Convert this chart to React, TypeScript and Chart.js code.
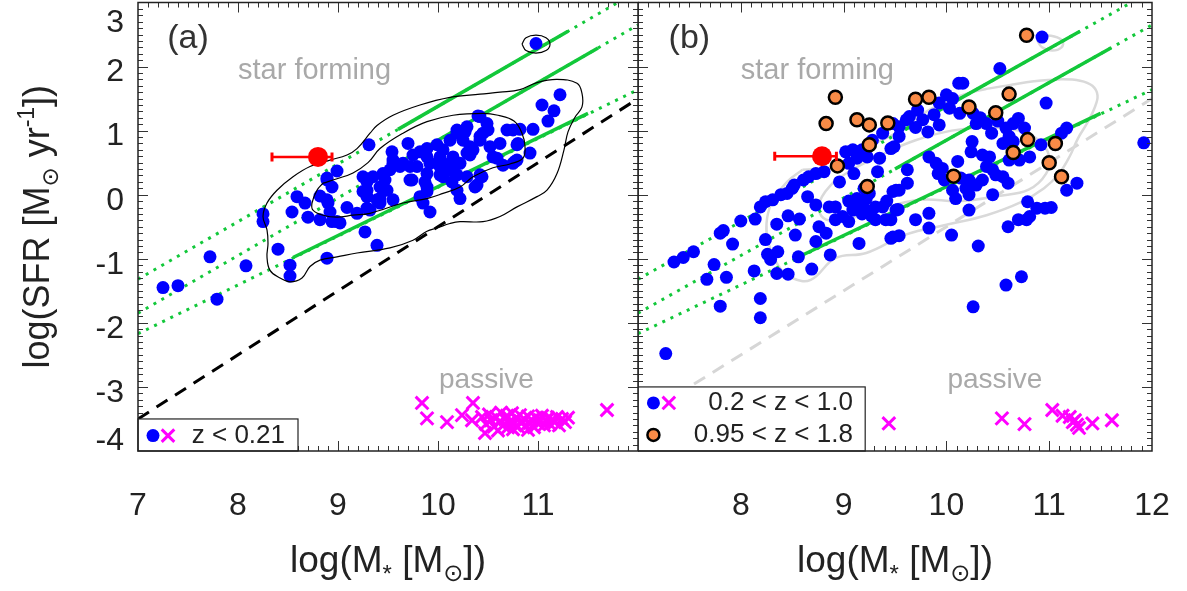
import React, { useEffect, useRef } from 'react';
import { Chart, registerables } from 'chart.js';

Chart.register(...registerables);

const FONT = '"Liberation Sans", Arial, Helvetica, "DejaVu Sans", sans-serif';

type P = [number, number];

// ---------- panel (a): z < 0.21 ----------
const aBlue: P[] = [
  [7.25, -1.45], [7.40, -1.42], [7.72, -0.97], [7.79, -1.63], [8.08, -1.11], [8.25, -0.30], [8.25, -0.42],
  [8.40, -0.85], [8.52, -1.10], [8.52, -1.27], [8.54, -0.27], [8.59, -0.03], [8.67, -0.13], [8.70, -0.35],
  [8.82, -0.02], [8.82, -0.39], [8.89, 0.26], [8.94, 0.12], [8.99, 0.37], [8.90, -0.13], [8.92, -0.27],
  [8.94, -0.42], [9.02, -0.44], [9.09, -0.20], [8.89, -0.99], [9.27, -0.58], [9.31, 0.78], [9.39, -0.79],
  [9.29, 0.07], [9.29, -0.21], [9.25, 0.05], [9.29, 0.20], [9.42, -0.06], [9.55, -0.08], [9.45, 0.33],
  [9.55, 0.49], [9.54, 0.67], [9.65, 0.49], [9.70, 0.80], [9.89, 0.33], [10.02, 0.31], [10.05, 0.70],
  [10.15, 0.59], [10.19, 0.96], [10.29, 1.06], [10.42, 1.22], [10.49, 1.11], [10.45, 0.96], [10.32, 0.75],
  [10.52, 0.75], [10.69, 1.01], [10.82, 1.02], [10.95, 1.02], [9.19, -0.29], [8.89, -0.08], [8.99, -0.42],
  [8.89, 0.23], [10.98, 2.36], [11.22, 1.56], [11.04, 1.40], [11.16, 1.31], [11.10, 1.15], [10.40, 1.23],
  [10.19, 1.01], [10.27, 0.98], [10.50, 1.01], [10.42, 0.91], [10.25, 0.85], [10.12, 0.85], [9.99, 0.78],
  [9.89, 0.72], [10.79, 0.78], [10.79, 0.54], [10.92, 0.65], [10.35, 0.70], [10.59, 0.57], [10.65, 0.46],
  [10.75, 0.49], [10.32, 0.62], [9.82, 0.67], [9.75, 0.62], [9.55, 0.54], [9.62, 0.44], [9.79, 0.44],
  [9.92, 0.49], [10.02, 0.44], [10.12, 0.39], [10.19, 0.31], [10.22, 0.49], [10.05, 0.28], [9.87, 0.20],
  [9.72, 0.23], [9.52, 0.39], [9.47, 0.23], [9.35, 0.28], [9.42, 0.12], [9.49, 0.07], [9.39, -0.08],
  [9.29, -0.03], [9.32, -0.24], [9.82, -0.03], [9.89, 0.12], [9.92, -0.27], [9.85, -0.13], [10.19, 0.07],
  [10.22, -0.06], [10.37, 0.12], [10.44, 0.28], [10.29, 0.28], [10.14, 0.20], [10.80, 0.80], [10.77, 0.52],
  [10.55, 0.59], [10.42, 0.31], [10.39, 0.15], [9.89, 0.05], [9.74, 0.23],
  [10.75, 1.01], [10.42, 0.85], [10.62, 0.80], [10.29, 0.65], [10.15, 0.44], [10.02, 0.54], [9.89, 0.59],
  [9.25, 0.28], [9.42, -0.13], [9.72, 0.44], [10.12, 0.49], [10.02, 0.59],
];

const aPassive: P[] = [
  [9.84, -3.25], [9.89, -3.49], [10.09, -3.55], [10.24, -3.44], [10.35, -3.25], [10.34, -3.52], [10.47, -3.72],
  [11.69, -3.36], [10.44, -3.47], [10.48, -3.58], [10.51, -3.43], [10.53, -3.52], [10.56, -3.62], [10.58, -3.47],
  [10.61, -3.55], [10.63, -3.40], [10.65, -3.60], [10.67, -3.50], [10.69, -3.45], [10.70, -3.63], [10.72, -3.54],
  [10.74, -3.41], [10.76, -3.58], [10.78, -3.49], [10.80, -3.62], [10.82, -3.44], [10.84, -3.55], [10.86, -3.50],
  [10.88, -3.60], [10.90, -3.46], [10.92, -3.56], [10.94, -3.52], [10.96, -3.63], [10.98, -3.48], [11.00, -3.57],
  [11.02, -3.52], [11.04, -3.45], [11.06, -3.60], [11.08, -3.53], [11.10, -3.48], [11.12, -3.58], [11.14, -3.51],
  [11.17, -3.55], [11.19, -3.47], [11.21, -3.60], [11.24, -3.50], [11.27, -3.55], [11.30, -3.48], [10.60, -3.68],
  [10.75, -3.66], [10.90, -3.67],
];

const aRedPoint: P[] = [[8.80, 0.59]];
const aRedErr: P[] = [[8.34, 0.59], [8.94, 0.59]];

const aContourOuter: P[] = [
  [9.32, 0.96], [9.19, 0.72], [9.09, 0.62], [8.92, 0.54], [8.72, 0.44], [8.55, 0.28], [8.39, 0.07], [8.29, -0.13],
  [8.25, -0.34], [8.29, -0.55], [8.30, -0.76], [8.29, -0.97], [8.32, -1.18], [8.42, -1.30], [8.52, -1.36],
  [8.64, -1.30], [8.72, -1.12], [8.82, -1.02], [8.99, -0.97], [9.19, -0.91], [9.52, -0.83], [9.75, -0.71],
  [9.89, -0.57], [9.99, -0.52], [10.12, -0.45], [10.22, -0.42], [10.45, -0.42], [10.62, -0.34], [10.79, -0.19],
  [10.99, -0.03], [11.09, 0.07], [11.19, 0.33], [11.26, 0.70], [11.30, 0.98], [11.37, 1.21], [11.44, 1.37],
  [11.44, 1.58], [11.39, 1.74], [11.19, 1.80], [10.99, 1.75], [10.82, 1.64], [10.62, 1.60], [10.42, 1.57],
  [10.12, 1.52], [9.82, 1.40], [9.55, 1.24], [9.39, 1.08], [9.32, 0.96],
];
const aContourInner: P[] = [
  [8.85, 0.18], [8.79, 0.07], [8.74, -0.13], [8.75, -0.24], [8.85, -0.32], [8.99, -0.35], [9.15, -0.32],
  [9.32, -0.29], [9.65, -0.13], [9.89, -0.06], [10.05, 0.02], [10.22, 0.12], [10.35, 0.28], [10.55, 0.42],
  [10.72, 0.48], [10.85, 0.57], [10.87, 0.75], [10.84, 0.96], [10.76, 1.15], [10.60, 1.24], [10.45, 1.27],
  [10.15, 1.24], [9.89, 1.14], [9.65, 0.96], [9.42, 0.72], [9.30, 0.50], [9.15, 0.34], [8.99, 0.25], [8.85, 0.18],
];
const aContourPeak: P[] = [
  [10.84, 2.35], [10.88, 2.45], [10.98, 2.49], [11.08, 2.45], [11.12, 2.35], [11.08, 2.25], [10.98, 2.21],
  [10.88, 2.25], [10.84, 2.35],
];

// ---------- panel (b): 0.2 < z < 1.0 and 0.95 < z < 1.8 ----------
const bBlue: P[] = [
  [7.27, -2.48], [7.35, -1.05], [7.44, -0.98], [7.54, -0.89], [7.74, -1.09], [7.67, -1.32], [7.86, -1.29],
  [7.80, -1.74], [7.80, -0.60], [7.83, -0.56], [7.92, -0.77], [8.00, -0.41], [8.14, -0.38], [8.13, -1.19],
  [8.19, -1.62], [8.19, -1.92], [8.24, -0.70], [8.26, -0.93], [8.29, -1.01], [8.36, -0.89], [8.35, -1.23],
  [8.46, -1.24], [8.35, -0.46], [8.46, -0.33], [8.57, -0.38], [8.53, -0.63], [8.56, -0.97], [8.69, -1.16],
  [8.87, -0.94], [8.73, -0.73], [8.76, -0.50], [8.83, -0.60], [8.86, -0.19], [8.92, -0.19], [8.73, -0.16],
  [8.65, -0.03], [8.19, -0.19], [8.24, -0.11], [8.31, -0.08], [8.39, 0.00], [8.45, 0.02], [8.50, 0.10],
  [8.52, 0.15], [8.61, 0.23], [8.66, 0.28], [8.73, 0.33], [8.81, 0.36], [8.96, 0.20], [9.05, 0.49],
  [9.02, 0.67], [9.09, 0.70], [9.13, 0.57], [9.18, 0.70], [9.23, 0.59], [9.35, 0.57], [9.28, 0.85],
  [9.38, 0.96], [9.48, 1.11], [9.46, 0.72], [9.10, 0.33], [9.33, 0.36], [9.13, -0.06], [9.15, -0.13],
  [9.09, -0.24], [9.22, -0.24], [9.31, -0.19], [9.38, -0.19], [9.22, -0.06], [9.25, 0.02], [8.99, -0.34],
  [9.05, -0.42], [8.92, -0.39], [9.31, -0.39], [9.41, -0.39], [9.15, -0.76], [9.48, -0.66], [9.51, 0.07],
  [9.51, -0.24],
  [10.93, 2.46], [10.52, 1.97], [10.12, 1.74], [10.16, 1.74], [10.97, 1.43], [11.92, 0.81], [10.00, 1.56],
  [10.06, 1.50], [9.93, 1.43], [10.03, 1.35], [10.13, 1.27], [9.72, 1.32], [9.64, 1.22], [9.61, 1.17],
  [9.77, 1.17], [9.93, 1.09], [9.82, 0.98], [9.54, 1.06], [9.54, 0.91], [9.49, 0.75], [10.26, 1.27],
  [10.29, 1.11], [10.39, 1.11], [10.44, 0.96], [10.70, 1.19], [10.65, 1.11], [10.58, 1.04], [10.61, 0.91],
  [10.76, 1.04], [10.55, 0.80], [10.65, 0.83], [10.61, 0.54], [10.71, 0.54], [10.81, 0.59], [10.92, 0.78],
  [11.12, 0.96], [11.17, 1.04], [10.25, 0.83], [10.24, 0.67], [10.35, 0.62], [10.42, 0.59], [10.39, 0.44],
  [10.45, 0.39], [10.11, 0.52], [9.83, 0.59], [9.90, 0.49], [9.96, 0.41], [9.92, 0.33], [9.98, 0.23],
  [10.22, 0.23], [10.29, 0.15], [10.35, 0.23], [10.48, 0.31], [10.55, 0.28], [10.60, 0.18], [10.06, 0.07],
  [10.09, -0.06], [10.19, 0.10], [10.22, 0.00], [10.45, 0.00], [10.22, -0.24], [9.83, -0.29], [9.70, -0.39],
  [9.83, -0.52], [10.05, -0.63], [10.31, -0.80], [10.58, -1.41], [10.73, -1.28], [10.26, -1.75], [10.60, -0.50],
  [10.70, -0.39], [10.78, -0.39], [10.79, -0.11], [10.88, -0.21], [10.96, -0.21], [11.02, -0.20], [11.17, 0.07],
  [11.27, 0.18], [10.81, -0.34], [9.62, 0.39], [9.62, 0.18], [9.54, 0.07], [9.48, 0.05], [9.53, -0.23],
  [9.46, -0.39], [9.54, -0.64], [9.46, -0.68], [10.14, 0.26],
  [9.05, -0.10], [9.18, -0.30], [9.27, -0.33], [9.20, 0.10], [9.42, -0.10], [10.33, 1.20], [10.50, 1.15],
  [9.70, 1.05], [9.88, 1.25],
];

const bOrange: P[] = [
  [8.92, 1.52], [8.83, 1.11], [9.13, 1.17], [9.25, 1.09], [9.43, 1.12], [9.25, 0.78], [8.94, 0.45], [9.23, 0.13],
  [10.78, 2.49], [9.70, 1.49], [9.83, 1.52], [10.22, 1.37], [10.61, 1.57], [10.48, 1.28], [10.79, 0.86],
  [10.65, 0.66], [11.06, 0.80], [11.00, 0.50], [11.12, 0.28], [10.07, 0.29],
];

const bPassive: P[] = [
  [9.44, -3.57], [10.54, -3.49], [10.76, -3.58], [11.03, -3.36], [11.13, -3.45], [11.20, -3.47], [11.25, -3.52],
  [11.27, -3.59], [11.29, -3.64], [11.23, -3.55], [11.42, -3.57], [11.61, -3.52],
];

const bRedPoint: P[] = [[8.79, 0.60]];
const bRedErr: P[] = [[8.33, 0.60], [8.93, 0.60]];

const bContourOuter: P[] = [
  [8.60, 0.39], [8.45, 0.20], [8.30, -0.13], [8.25, -0.45], [8.27, -0.76], [8.37, -1.12], [8.50, -1.30],
  [8.68, -1.33], [8.92, -0.99], [9.22, -0.91], [9.61, -0.62], [10.00, -0.47], [10.39, -0.32], [10.72, -0.12],
  [10.95, 0.10], [11.10, 0.34], [11.20, 0.60], [11.28, 0.88], [11.37, 1.12], [11.44, 1.35], [11.47, 1.55],
  [11.42, 1.70], [11.30, 1.78], [11.10, 1.80], [10.85, 1.77], [10.61, 1.71], [10.42, 1.66], [10.22, 1.59],
  [10.03, 1.48], [9.83, 1.32], [9.64, 1.12], [9.51, 0.96], [9.25, 0.76], [8.93, 0.45], [8.76, 0.40], [8.60, 0.39],
];
const bContourInner: P[] = [
  [8.92, 0.23], [8.79, -0.03], [8.76, -0.24], [8.83, -0.39], [9.00, -0.40], [9.30, -0.25], [9.74, -0.08],
  [10.13, -0.10], [10.50, -0.02], [10.80, 0.08], [10.97, 0.33], [11.00, 0.60], [10.90, 0.85], [10.70, 1.00],
  [10.40, 1.05], [10.05, 1.00], [9.70, 0.85], [9.40, 0.65], [9.15, 0.45], [8.92, 0.23],
];
const bContourPeak: P[] = [
  [10.88, 2.42], [10.93, 2.30], [11.03, 2.25], [11.12, 2.30], [11.13, 2.40], [11.05, 2.47], [10.95, 2.48], [10.88, 2.42],
];

// ---------- reference relations (both panels) ----------
const msUpperDotted: P[] = [[7, -1.32], [12, 3.18]];
const msUpperSolid: P[] = [[9.6, 1.02], [11.3, 2.55]];
const msMidDotted: P[] = [[7, -1.85], [12, 2.65]];
const msMidSolid: P[] = [[9.5, 0.40], [11.6, 2.29]];
const msLowDotted: P[] = [[7, -2.17], [12, 1.64]];
const msLowSolid: P[] = [[8.55, -0.98], [11.5, 1.27]];
const passiveDivide: P[] = [[7, -3.5], [12, 1.5]];

const X_MIN = 7, X_MAX = 12, Y_MIN = -4, Y_MAX = 3;

const BLUE = '#0000ff';
const MAGENTA = '#ff00ff';
const GREEN = '#12c83a';
const ORANGE = '#f98b47';
const RED = '#ff0000';

const pts = (a: P[]) => a.map(([x, y]) => ({ x, y }));

function drawRich(ctx: CanvasRenderingContext2D, parts: { t: string; d?: number }[], cx: number, base: number, big: number, small: number) {
  const widths = parts.map((p) => {
    ctx.font = `${p.d ? small : big}px ${FONT}`;
    return ctx.measureText(p.t).width;
  });
  const total = widths.reduce((s, w) => s + w, 0);
  let x = cx - total / 2;
  ctx.textAlign = 'left';
  ctx.textBaseline = 'alphabetic';
  parts.forEach((p, i) => {
    ctx.font = `${p.d ? small : big}px ${FONT}`;
    ctx.fillText(p.t, x, base + (p.d || 0));
    x += widths[i];
  });
}

function makeDeco(isA: boolean) {
  return {
    id: 'deco',
    beforeDatasetsDraw(chart: any) {
      const { ctx, scales } = chart;
      const x = scales.x, y = scales.y;
      ctx.save();
      ctx.fillStyle = '#333';
      ctx.font = `34px ${FONT}`;
      ctx.textAlign = 'center';
      ctx.textBaseline = 'middle';
      ctx.fillText(isA ? '(a)' : '(b)', x.getPixelForValue(7.5), y.getPixelForValue(2.43));
      ctx.fillStyle = '#a9a9a9';
      ctx.textAlign = 'left';
      ctx.textBaseline = 'alphabetic';
      ctx.font = `29px ${FONT}`;
      ctx.fillText('star forming', x.getPixelForValue(8.0), y.getPixelForValue(1.8));
      ctx.font = `28px ${FONT}`;
      ctx.fillText('passive', x.getPixelForValue(10.01), y.getPixelForValue(-3.02));
      ctx.restore();
    },
    afterDraw(chart: any) {
      const { ctx, chartArea: ca, scales } = chart;
      const x = scales.x, y = scales.y;
      ctx.save();
      // inward ticks on all four sides
      ctx.strokeStyle = '#333';
      ctx.lineWidth = 1;
      ctx.beginPath();
      for (let i = 71; i < 120; i++) {
        const L = i % 10 === 0 ? 10 : 5;
        const px = Math.round(x.getPixelForValue(i / 10)) + 0.5;
        ctx.moveTo(px, ca.bottom); ctx.lineTo(px, ca.bottom - L);
        ctx.moveTo(px, ca.top); ctx.lineTo(px, ca.top + L);
      }
      for (let i = -39; i < 30; i++) {
        const L = i % 10 === 0 ? 10 : 5;
        const py = Math.round(y.getPixelForValue(i / 10)) + 0.5;
        ctx.moveTo(ca.left, py); ctx.lineTo(ca.left + L, py);
        ctx.moveTo(ca.right, py); ctx.lineTo(ca.right - L, py);
      }
      ctx.stroke();

      // legend box
      const bx0 = ca.left;
      const bx1 = x.getPixelForValue(isA ? 8.6 : 9.21);
      const by0 = y.getPixelForValue(isA ? -3.5 : -3.0);
      const by1 = ca.bottom;
      ctx.fillStyle = '#ffffff';
      ctx.fillRect(bx0, by0, bx1 - bx0, by1 - by0);

      // frame
      ctx.strokeStyle = '#222';
      ctx.lineWidth = 1.5;
      ctx.strokeRect(ca.left, ca.top, ca.right - ca.left, ca.bottom - ca.top);
      ctx.lineWidth = 1.2;
      ctx.strokeRect(bx0, by0, bx1 - bx0, by1 - by0);

      // legend content
      const circle = (cx: number, cy: number, r: number, fill: string, stroke?: string) => {
        ctx.beginPath();
        ctx.arc(cx, cy, r, 0, Math.PI * 2);
        ctx.fillStyle = fill;
        ctx.fill();
        if (stroke) { ctx.lineWidth = 2.5; ctx.strokeStyle = stroke; ctx.stroke(); }
      };
      const cross = (cx: number, cy: number, h: number) => {
        ctx.beginPath();
        ctx.strokeStyle = MAGENTA;
        ctx.lineWidth = 3;
        ctx.moveTo(cx - h, cy - h); ctx.lineTo(cx + h, cy + h);
        ctx.moveTo(cx - h, cy + h); ctx.lineTo(cx + h, cy - h);
        ctx.stroke();
      };
      ctx.font = `26px ${FONT}`;
      ctx.textAlign = 'right';
      ctx.textBaseline = 'middle';
      const mx1 = x.getPixelForValue(7.15), mx2 = x.getPixelForValue(7.30);
      if (isA) {
        const ly = y.getPixelForValue(-3.76);
        circle(mx1, ly, 6.5, BLUE);
        cross(mx2, ly, 6.3);
        ctx.fillStyle = '#222';
        ctx.fillText('z < 0.21', x.getPixelForValue(8.47), ly);
      } else {
        const ly1 = y.getPixelForValue(-3.25), ly2 = y.getPixelForValue(-3.75);
        circle(mx1, ly1, 6.5, BLUE);
        cross(mx2, ly1, 6.3);
        circle(mx1, ly2, 6, ORANGE, '#000');
        ctx.fillStyle = '#222';
        ctx.fillText('0.2 < z < 1.0', x.getPixelForValue(9.09), ly1);
        ctx.fillText('0.95 < z < 1.8', x.getPixelForValue(9.09), ly2);
      }

      // axis titles
      ctx.fillStyle = '#222';
      drawRich(ctx, [{ t: 'log(M' }, { t: '*', d: 10 }, { t: ' [M' }, { t: '\u2299', d: 9 }, { t: '])' }],
        (ca.left + ca.right) / 2, 572, 37, 24);
      if (isA) {
        ctx.save();
        ctx.translate(49, (ca.top + ca.bottom) / 2);
        ctx.rotate(-Math.PI / 2);
        drawRich(ctx, [{ t: 'log(SFR [M' }, { t: '\u2299', d: 9 }, { t: ' yr' }, { t: '-1', d: -15 }, { t: '])' }],
          0, 0, 36, 23);
        ctx.restore();
      }
      ctx.restore();
    },
  };
}

const zeroPad = (s: any) => {
  s.paddingTop = 0; s.paddingBottom = 0; s.paddingLeft = 0; s.paddingRight = 0;
};

function buildConfig(isA: boolean): any {
  const blue = isA ? aBlue : bBlue;
  const passive = isA ? aPassive : bPassive;
  const red = isA ? aRedPoint : bRedPoint;
  const err = isA ? aRedErr : bRedErr;
  const contours = isA ? [aContourOuter, aContourInner, aContourPeak] : [bContourOuter, bContourInner, bContourPeak];
  const contourColor = isA ? '#000000' : '#d9d9d9';
  const contourWidth = isA ? 1.2 : 2.5;

  const datasets: any[] = [
    { label: 'this object', data: pts(red), pointRadius: 10, pointBackgroundColor: RED, pointBorderWidth: 0, order: 0 },
    {
      label: 'error', data: pts(err), showLine: true, borderColor: RED, borderWidth: 2.5,
      pointStyle: 'line', pointRotation: 90, pointRadius: 4.5, pointBorderColor: RED, pointBorderWidth: 3, order: 1,
    },
    ...contours.map((c, i) => ({
      label: 'contour ' + i, data: pts(c), showLine: true, borderColor: contourColor, borderWidth: contourWidth,
      pointRadius: 0, tension: 0.4, order: isA ? 2 : 8,
    })),
    {
      label: 'passive', data: pts(passive), pointStyle: 'crossRot', pointRadius: 9,
      pointBorderColor: MAGENTA, pointBackgroundColor: MAGENTA, pointBorderWidth: 3, order: 5,
    },
    { label: 'star forming', data: pts(blue), pointRadius: 6.5, pointBackgroundColor: BLUE, pointBorderWidth: 0, order: 5 },
  ];
  if (!isA) {
    datasets.push({
      label: '0.95 < z < 1.8', data: pts(bOrange), pointRadius: 6.5, pointBackgroundColor: ORANGE,
      pointBorderColor: '#000', pointBorderWidth: 2.5, order: 3,
    });
  }
  [msUpperSolid, msMidSolid, msLowSolid].forEach((l, i) => datasets.push({
    label: 'MS solid ' + i, data: pts(l), showLine: true, borderColor: GREEN, borderWidth: 3.5, pointRadius: 0, order: 6,
  }));
  [msUpperDotted, msMidDotted, msLowDotted].forEach((l, i) => datasets.push({
    label: 'MS dotted ' + i, data: pts(l), showLine: true, borderColor: GREEN, borderWidth: 3, borderDash: [3, 6],
    borderCapStyle: 'butt', pointRadius: 0, order: 7,
  }));
  datasets.push({
    label: 'divide', data: pts(passiveDivide), showLine: true, borderColor: isA ? '#000' : '#d6d6d6',
    borderWidth: 3, borderDash: [13, 9], pointRadius: 0, order: 9,
  });

  return {
    type: 'scatter',
    data: { datasets },
    options: {
      animation: false,
      responsive: false,
      events: [],
      layout: { autoPadding: false, padding: { left: 0, right: isA ? 2 : 35, top: 2.5, bottom: 0 } },
      plugins: { legend: { display: false }, tooltip: { enabled: false } },
      scales: {
        x: {
          type: 'linear', min: X_MIN, max: X_MAX, position: 'bottom',
          afterFit: (s: any) => { s.height = 140; zeroPad(s); },
          grid: { display: false, drawTicks: false }, border: { display: false },
          ticks: {
            stepSize: 1, autoSkip: false, maxRotation: 0, padding: 36, color: '#222',
            font: { family: FONT, size: 32 },
            callback: (v: number) => ((isA && v === 12) || (!isA && v === 7) ? '' : String(v)),
          },
        },
        y: {
          type: 'linear', min: Y_MIN, max: Y_MAX, display: isA,
          afterFit: (s: any) => { s.width = isA ? 138 : 0; zeroPad(s); },
          grid: { display: false, drawTicks: false }, border: { display: false },
          ticks: {
            stepSize: 1, autoSkip: false, padding: 14, color: '#222',
            font: (c: any) => {
              const v = c.tick ? c.tick.value : 0;
              return { family: FONT, size: 32, lineHeight: v === 3 ? '42px' : v === -4 ? '20px' : '12px' };
            },
            callback: (v: number) => (v === 3 ? ['', '3'] : v === -4 ? ['-4', ''] : ['', String(v)]),
          },
        },
      },
    },
    plugins: [makeDeco(isA)],
  };
}

function Panel({ isA, left, width }: { isA: boolean; left: number; width: number }) {
  const ref = useRef<HTMLCanvasElement>(null);
  useEffect(() => {
    const chart = new Chart(ref.current as HTMLCanvasElement, buildConfig(isA));
    return () => chart.destroy();
  }, [isA]);
  return (
    <canvas
      ref={ref}
      width={width}
      height={591}
      style={{ position: 'absolute', left, top: 0, width, height: 591, display: 'block' }}
    />
  );
}

export default function App() {
  return (
    <div style={{ position: 'absolute', left: 0, top: 0, width: 1187, height: 591, background: '#fff', overflow: 'hidden' }}>
      <Panel isA={true} left={0} width={640} />
      <Panel isA={false} left={638} width={549} />
    </div>
  );
}
